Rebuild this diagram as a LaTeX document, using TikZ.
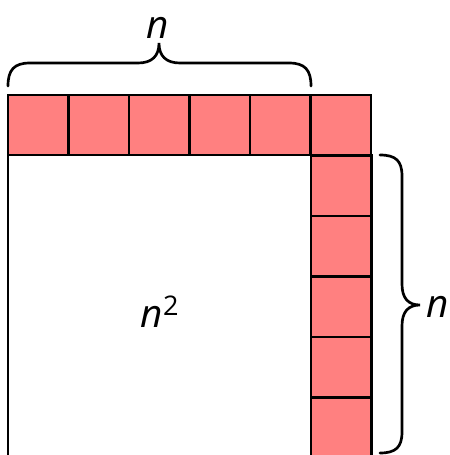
\documentclass[tikz,border=0pt]{standalone}
\usepackage{fontspec}
\setmainfont{Open Sans}
\definecolor{cellred}{RGB}{255,128,128}
\begin{document}
\begin{tikzpicture}[x=0.75pt,y=-0.75pt,
  cell/.style={fill=cellred,draw=black,line width=2.1pt},
  edge/.style={draw=black,line width=2.1pt},
  brace/.style={draw=black,line width=2pt,line cap=round},
  lbl/.style={font=\fontsize{29}{34}\selectfont,inner sep=0pt}]
\useasboundingbox (0,0) rectangle (450,455);
\clip (0,0) rectangle (450,455);
% square n x n (white)
\draw[edge] (8,470) -- (8,155) -- (311,155);
% top row
\foreach \i in {0,...,5}{
  \draw[cell] ({8+\i*60.5},95) rectangle ({8+(\i+1)*60.5},155);
}
% right column
\foreach \j in {1,...,5}{
  \draw[cell] (311,{95+\j*60.5}) rectangle (371.5,{95+(\j+1)*60.5});
}
% top brace
\draw[brace] (8,86) .. controls (8,70) and (14,63) .. (30,63) -- (138,63)
  .. controls (152,63) and (159,56) .. (159,43)
  .. controls (159,56) and (166,63) .. (180,63) -- (289,63)
  .. controls (305,63) and (311,70) .. (311,86);
% right brace
\draw[brace] (380,155) .. controls (396,155) and (402,161) .. (402,176) -- (402,284)
  .. controls (402,298) and (408,305) .. (420,305)
  .. controls (408,305) and (402,312) .. (402,326) -- (402,432)
  .. controls (402,447) and (396,453) .. (380,453);
\node[lbl] (ntop) at (158,28) {\itshape n};
\node[lbl] (nright) at (438,307) {\itshape n};
\node[lbl] (nsq) at (160,312) {{\itshape n}\textsuperscript{2}};
\end{tikzpicture}
\end{document}
